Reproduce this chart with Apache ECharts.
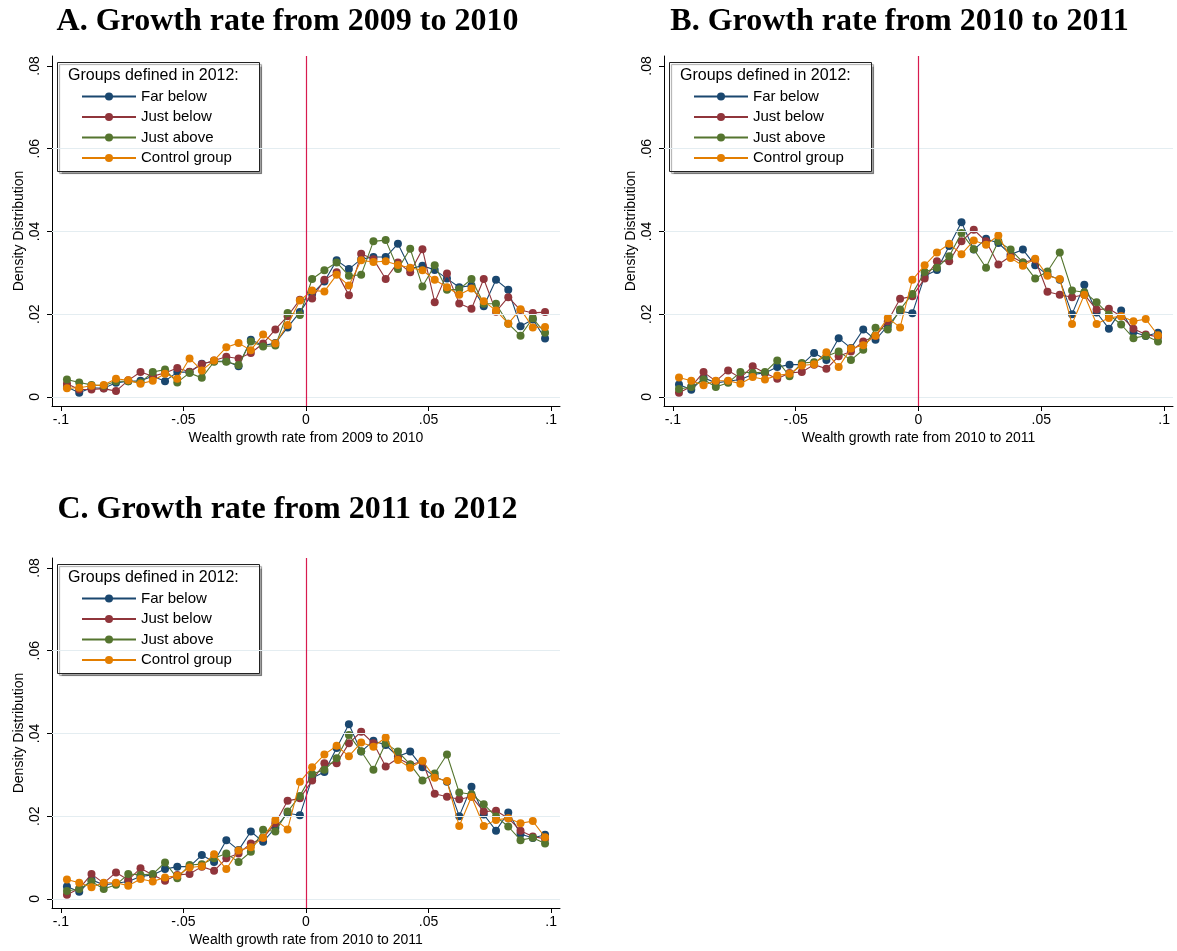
<!DOCTYPE html>
<html><head><meta charset="utf-8">
<script src="https://cdn.jsdelivr.net/npm/echarts@6/dist/echarts.min.js"></script>
<style>html,body{margin:0;padding:0;background:#fff}#c{width:1177px;height:951px}</style>
</head><body><div id="c"></div>
<script>
// ---------- data ----------
const growthX = [-0.0975,-0.0925,-0.0875,-0.0825,-0.0775,-0.0725,-0.0675,-0.0625,-0.0575,-0.0525,
  -0.0475,-0.0425,-0.0375,-0.0325,-0.0275,-0.0225,-0.0175,-0.0125,-0.0075,-0.0025,
  0.0025,0.0075,0.0125,0.0175,0.0225,0.0275,0.0325,0.0375,0.0425,0.0475,
  0.0525,0.0575,0.0625,0.0675,0.0725,0.0775,0.0825,0.0875,0.0925,0.0975];

const seriesNames = ['Far below','Just below','Just above','Control group'];

// Panel A: 2009 -> 2010
const farBelowA = [0.0024,0.0010,0.0022,0.0021,0.0034,0.0038,0.0039,0.0050,0.0038,0.0060,
  0.0060,0.0080,0.0086,0.0086,0.0074,0.0138,0.0124,0.0130,0.0168,0.0205,
  0.0249,0.0279,0.0330,0.0309,0.0333,0.0338,0.0338,0.0370,0.0310,0.0317,
  0.0307,0.0286,0.0265,0.0269,0.0219,0.0283,0.0259,0.0171,0.0187,0.0141];
const justBelowA = [0.0032,0.0018,0.0018,0.0020,0.0014,0.0040,0.0060,0.0050,0.0058,0.0070,
  0.0061,0.0079,0.0088,0.0097,0.0093,0.0106,0.0129,0.0163,0.0195,0.0235,
  0.0238,0.0283,0.0301,0.0246,0.0346,0.0333,0.0285,0.0325,0.0301,0.0357,
  0.0229,0.0298,0.0226,0.0213,0.0285,0.0206,0.0241,0.0210,0.0203,0.0205];
const justAboveA = [0.0042,0.0035,0.0029,0.0027,0.0038,0.0038,0.0035,0.0060,0.0066,0.0035,
  0.0058,0.0046,0.0085,0.0085,0.0077,0.0134,0.0122,0.0124,0.0203,0.0198,
  0.0285,0.0306,0.0325,0.0293,0.0295,0.0376,0.0379,0.0309,0.0358,0.0267,
  0.0318,0.0259,0.0260,0.0285,0.0225,0.0225,0.0177,0.0148,0.0190,0.0155];
const controlA = [0.0021,0.0022,0.0027,0.0029,0.0044,0.0040,0.0032,0.0039,0.0056,0.0044,
  0.0093,0.0064,0.0088,0.0120,0.0130,0.0113,0.0151,0.0129,0.0174,0.0233,
  0.0257,0.0255,0.0295,0.0269,0.0330,0.0326,0.0328,0.0319,0.0312,0.0306,
  0.0283,0.0265,0.0247,0.0262,0.0231,0.0209,0.0177,0.0212,0.0168,0.0169];

// Panel B (also shown in panel C): 2010 -> 2011
const farBelowB = [0.0030,0.0017,0.0046,0.0034,0.0038,0.0042,0.0054,0.0058,0.0072,0.0078,
  0.0078,0.0106,0.0089,0.0142,0.0118,0.0163,0.0138,0.0172,0.0207,0.0202,
  0.0292,0.0307,0.0365,0.0422,0.0356,0.0382,0.0372,0.0344,0.0356,0.0318,
  0.0295,0.0283,0.0200,0.0271,0.0204,0.0165,0.0209,0.0157,0.0147,0.0155];
const justBelowB = [0.0010,0.0025,0.0060,0.0038,0.0064,0.0046,0.0074,0.0058,0.0044,0.0058,
  0.0060,0.0078,0.0068,0.0098,0.0110,0.0134,0.0147,0.0183,0.0237,0.0243,
  0.0286,0.0328,0.0328,0.0376,0.0404,0.0376,0.0320,0.0340,0.0325,0.0332,
  0.0254,0.0247,0.0241,0.0247,0.0211,0.0213,0.0195,0.0165,0.0151,0.0145];
const justAboveB = [0.0019,0.0024,0.0042,0.0024,0.0034,0.0060,0.0058,0.0060,0.0088,0.0050,
  0.0082,0.0084,0.0098,0.0110,0.0089,0.0114,0.0167,0.0163,0.0211,0.0249,
  0.0302,0.0312,0.0340,0.0396,0.0357,0.0312,0.0376,0.0356,0.0325,0.0286,
  0.0303,0.0349,0.0257,0.0253,0.0229,0.0199,0.0175,0.0142,0.0148,0.0134];
const controlB = [0.0047,0.0039,0.0028,0.0039,0.0039,0.0032,0.0048,0.0042,0.0052,0.0056,
  0.0076,0.0079,0.0108,0.0072,0.0117,0.0125,0.0148,0.0191,0.0168,0.0283,
  0.0318,0.0349,0.0370,0.0345,0.0378,0.0368,0.0390,0.0336,0.0317,0.0334,
  0.0293,0.0285,0.0176,0.0247,0.0176,0.0191,0.0195,0.0183,0.0188,0.0149];

const xTickValues = [-0.1,-0.05,0,0.05,0.1];
const xTickLabels = ['-.1','-.05','0','.05','.1'];
const yTickValues = [0,0.02,0.04,0.06,0.08];
const yTickLabels = ['0','.02','.04','.06','.08'];
const gridValues = [0,0.02,0.04,0.06];
const zeroLine = [0];

const panelTitles = ['A. Growth rate from 2009 to 2010','B. Growth rate from 2010 to 2011','C. Growth rate from 2011 to 2012'];
const xAxisTitles = ['Wealth growth rate from 2009 to 2010','Wealth growth rate from 2010 to 2011','Wealth growth rate from 2010 to 2011'];
const yAxisTitle = 'Density Distribution';
const legendTitle = 'Groups defined in 2012:';

// ---------- build ----------
const colors = ['#1a476f','#90353b','#55752f','#e37e00'];
const panelData = [
  [farBelowA, justBelowA, justAboveA, controlA],
  [farBelowB, justBelowB, justAboveB, controlB],
  [farBelowB, justBelowB, justAboveB, controlB]
];
const layout = [
  {gl:52,  gt:56,  gw:508, gh:350, tx:287.5, ty:21.5},
  {gl:664, gt:56,  gw:509, gh:350, tx:899.5, ty:21.5},
  {gl:52,  gt:558, gw:508, gh:350, tx:287.5, ty:509.5}
];
const SANS = 'Liberation Sans, Arial, sans-serif';
const SERIF = 'Liberation Serif, Times New Roman, serif';

const grids=[], xAxes=[], yAxes=[], series=[], legends=[], graphics=[];
layout.forEach((L,k)=>{
  grids.push({left:L.gl, top:L.gt, width:L.gw, height:L.gh, containLabel:false});
  xAxes.push({
    type:'value', gridIndex:k, min:-0.1036, max:0.1036,
    name:xAxisTitles[k], nameLocation:'middle', nameGap:25,
    nameTextStyle:{fontSize:14, fontFamily:SANS, color:'#000'},
    axisLine:{show:true, onZero:false, lineStyle:{color:'#000', width:1}},
    axisTick:{show:true, inside:false, length:5, customValues:xTickValues, lineStyle:{color:'#000'}},
    axisLabel:{show:true, margin:7, fontSize:14, fontFamily:SANS, color:'#000',
      customValues:xTickValues,
      formatter:v=>{const i=xTickValues.findIndex(t=>Math.abs(t-v)<1e-9);return i>=0?xTickLabels[i]:'';}},
    splitLine:{show:false}
  });
  yAxes.push({
    type:'value', gridIndex:k, min:-0.0022, max:0.0824,
    name:yAxisTitle, nameLocation:'middle', nameGap:26, nameRotate:90,
    nameTextStyle:{fontSize:14, fontFamily:SANS, color:'#000'},
    axisLine:{show:true, onZero:false, lineStyle:{color:'#000', width:1}},
    axisTick:{show:true, inside:false, length:5, customValues:yTickValues, lineStyle:{color:'#000'}},
    axisLabel:{show:true, rotate:90, margin:10, fontSize:14, fontFamily:SANS, color:'#000',
      customValues:yTickValues,
      formatter:v=>{const i=yTickValues.findIndex(t=>Math.abs(t-v)<1e-9);return i>=0?yTickLabels[i]:'';}},
    splitLine:{show:false}
  });
  panelData[k].forEach((vals,s)=>{
    const ser = {
      type:'line', name:seriesNames[s], xAxisIndex:k, yAxisIndex:k,
      data: growthX.map((x,i)=>[x, vals[i]]),
      symbol:'circle', symbolSize:8, showSymbol:true,
      lineStyle:{color:colors[s], width:1.1},
      itemStyle:{color:colors[s]},
      color:colors[s],
      animation:false, z:2+s*0.01
    };
    if(s===0){
      ser.markLine = {
        silent:true, symbol:['none','none'], animation:false, label:{show:false},
        data: gridValues.map(g=>({yAxis:g, lineStyle:{color:'#e4edf1', width:1, type:'solid'}}))
          .concat(zeroLine.map(z=>({xAxis:z, lineStyle:{color:'#d81b4f', width:1.2, type:'solid'}})))
      };
    }
    series.push(ser);
  });
  legends.push({
    orient:'vertical', left:L.gl+24, top:L.gt+28, itemWidth:54, itemHeight:10, itemGap:5.5,
    textStyle:{fontSize:15, fontFamily:SANS, color:'#000'},
    data:seriesNames.slice(), selectedMode:false, z:6
  });
  graphics.push({
    type:'rect', z:5, silent:true,
    shape:{x:L.gl+5.5, y:L.gt+6.5, width:202, height:109},
    style:{fill:'#fff', stroke:'#222', lineWidth:1,
      shadowColor:'rgba(0,0,0,0.35)', shadowOffsetX:2, shadowOffsetY:2, shadowBlur:1}
  });
  graphics.push({
    type:'text', z:7, silent:true, x:L.gl+16, y:L.gt+19.5,
    style:{text:legendTitle, fontSize:16, fontFamily:SANS, fill:'#000', verticalAlign:'middle', align:'left'}
  });
  graphics.push({
    type:'text', z:7, silent:true, x:L.tx, y:L.ty,
    style:{text:panelTitles[k], fontSize:32, fontWeight:'bold', fontFamily:SERIF, fill:'#000', verticalAlign:'middle', align:'center'}
  });
});

const chart = echarts.init(document.getElementById('c'), null, {renderer:'canvas'});
chart.setOption({
  animation:false, backgroundColor:'#fff',
  grid:grids, xAxis:xAxes, yAxis:yAxes, series:series, legend:legends,
  graphic:{elements:graphics}
});
</script></body></html>
